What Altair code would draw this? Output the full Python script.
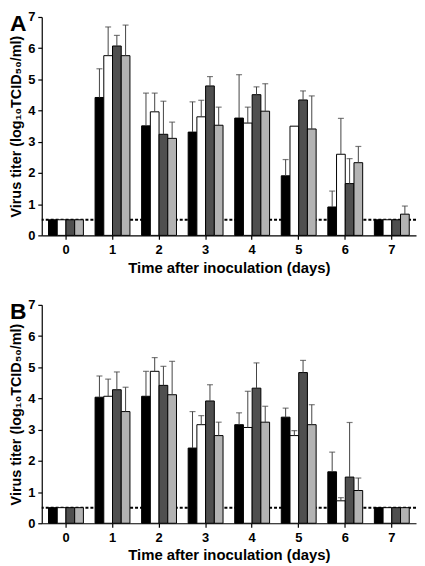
import altair as alt
import pandas as pd

days = ["0", "1", "2", "3", "4", "5", "6", "7"]
groups = ["g1", "g2", "g3", "g4"]
colors = ["#000000", "#ffffff", "#4f4f4f", "#b3b3b3"]

# Panel A: bar heights and upper ends of error bars (None = no bar)
A_g1 = [0.5, 4.42, 3.51, 3.31, 3.76, 1.91, 0.91, 0.5]
A_g1_hi = [None, 5.34, 4.56, 4.28, 5.15, 2.43, 1.42, None]
A_g2 = [0.5, 5.76, 3.96, 3.80, 3.60, 3.50, 2.60, 0.5]
A_g2_hi = [None, 6.68, 4.56, 4.33, 4.11, None, 3.75, None]
A_g3 = [0.5, 6.07, 3.24, 4.79, 4.51, 4.34, 1.66, 0.5]
A_g3_hi = [None, 6.41, 4.30, 5.09, 4.76, 4.63, 2.46, None]
A_g4 = [0.5, 5.76, 3.11, 3.53, 3.98, 3.41, 2.33, 0.68]
A_g4_hi = [None, 6.74, 3.63, 4.11, 4.86, 4.47, 2.85, 0.94]

# Panel B
B_g1 = [0.5, 4.04, 4.07, 2.41, 3.16, 3.40, 1.65, 0.5]
B_g1_hi = [None, 4.72, 4.87, 3.58, 3.54, 3.69, 2.28, None]
B_g2 = [0.5, 4.07, 4.87, 3.16, 3.07, 2.81, 0.72, 0.5]
B_g2_hi = [None, 4.62, 5.31, 3.45, 4.23, 2.97, 0.82, None]
B_g3 = [0.5, 4.28, 4.42, 3.92, 4.33, 4.83, 1.48, 0.5]
B_g3_hi = [None, 4.85, 5.03, 4.44, 5.14, 5.22, 3.23, None]
B_g4 = [0.5, 3.58, 4.12, 2.81, 3.24, 3.16, 1.05, 0.5]
B_g4_hi = [None, 4.36, 5.19, 3.24, 3.75, 3.80, 1.45, None]

detection_limit = 0.5
y_ticks = [0, 1, 2, 3, 4, 5, 6, 7]
x_title = "Time after inoculation (days)"
y_title = "Virus titer (log₁₀TCID₅₀/ml)"

FONT = "Liberation Sans"
W, H = 377, 220


def make_df(vals, his):
    rows = []
    for g, v, h in zip(groups, vals, his):
        for d, vv, hh in zip(days, v, h):
            rows.append({"day": d, "group": g, "value": vv, "hi": hh,
                         "lim": detection_limit})
    return pd.DataFrame(rows)


def panel(df, letter):
    base = alt.Chart(df)
    x = alt.X(
        "day:N", sort=days, title=x_title,
        scale=alt.Scale(paddingInner=0, paddingOuter=0.02),
        axis=alt.Axis(labelAngle=0, tickSize=4, labelPadding=4, titlePadding=4,
                      titleFontSize=15),
    )
    xo = alt.XOffset("group:N", sort=groups,
                     scale=alt.Scale(paddingInner=0, paddingOuter=0.67))
    yscale = alt.Scale(domain=[0, 7], nice=False)
    yaxis = alt.Axis(values=y_ticks, tickSize=4, labelPadding=3, titlePadding=4,
                     labelOverlap=False, titleFontSize=14.5)

    def Y(field):
        return alt.Y(field, title=y_title, scale=yscale, axis=yaxis)

    one = "datum.day == '0' && datum.group == 'g1'"
    dotted = base.transform_filter(one).mark_rule(
        strokeDash=[3, 2], strokeWidth=2, color="black"
    ).encode(y=Y("lim:Q"))
    bars = base.mark_bar(stroke="black", strokeWidth=1).encode(
        x=x, xOffset=xo, y=Y("value:Q"),
        color=alt.Color("group:N", sort=groups,
                        scale=alt.Scale(domain=groups, range=colors), legend=None),
    )
    errs = base.transform_filter("isValid(datum.hi)")
    err = errs.mark_rule(color="#444444", strokeWidth=1).encode(
        x=x, xOffset=xo, y=Y("value:Q"), y2="hi:Q")
    cap = errs.mark_tick(color="#444444", size=6, thickness=1.2).encode(
        x=x, xOffset=xo, y=Y("hi:Q"))
    lab = base.transform_filter(one).mark_text(
        text=letter, fontSize=23, fontWeight="bold", font=FONT, align="left",
        baseline="top", color="black"
    ).encode(x=alt.value(-32), y=alt.value(-4))
    return alt.layer(dotted, bars, err, cap, lab).properties(width=W, height=H)


dfA = make_df([A_g1, A_g2, A_g3, A_g4], [A_g1_hi, A_g2_hi, A_g3_hi, A_g4_hi])
dfB = make_df([B_g1, B_g2, B_g3, B_g4], [B_g1_hi, B_g2_hi, B_g3_hi, B_g4_hi])

chart = alt.vconcat(panel(dfA, "A"), panel(dfB, "B"), spacing=24).properties(
    padding={"top": 1, "left": 0, "right": 0, "bottom": 0}
).configure_view(stroke=None).configure_axis(
    grid=False, domainColor="black", tickColor="black", domainWidth=1.2,
    tickWidth=1.2, labelFont=FONT, titleFont=FONT, labelFontSize=13,
    titleFontSize=14, labelFontWeight="bold", titleFontWeight="bold",
    labelColor="black", titleColor="black",
)

chart.save("out.html", embed_options={"renderer": "svg", "actions": False})
